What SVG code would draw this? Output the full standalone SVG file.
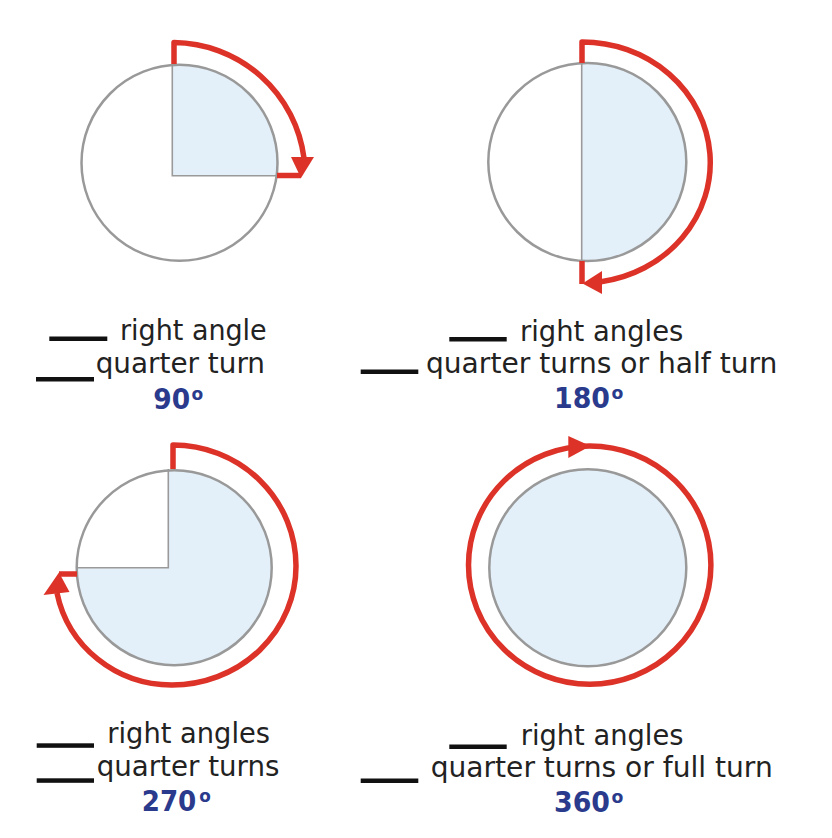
<svg xmlns="http://www.w3.org/2000/svg" width="832" height="838" viewBox="0 0 832 838">
<style>
.bg{fill:#ffffff}
.fill{fill:#e4f0f9}
.ring{fill:none;stroke:#999999;stroke-width:2.5}
.rad{stroke:#9a9a9a;stroke-width:1.6;fill:none}
.arc{fill:none;stroke:#dc3228;stroke-width:5.5;stroke-linejoin:round;stroke-linecap:butt}
.head{fill:#dc3228}
.lbl{font-family:"DejaVu Sans","Verdana",sans-serif;font-size:29px;fill:#222222}
.num{font-family:"DejaVu Sans","Verdana",sans-serif;font-size:28px;font-weight:bold;fill:#2a3a8c}
.sup{font-size:18px}
.blank{fill:#111111}
</style>
<defs>
<clipPath id="c1"><circle cx="179.5" cy="162.8" r="98"/></clipPath>
<clipPath id="c2"><circle cx="587.3" cy="162" r="99"/></clipPath>
<clipPath id="c3"><circle cx="174.2" cy="567.8" r="97.5"/></clipPath>
</defs>
<rect class="bg" x="0" y="0" width="832" height="838"/>

<g id="turn-90">
<circle cx="179.5" cy="162.8" r="98" fill="#ffffff"/>
<rect class="fill" x="172.3" y="40" width="140" height="135.7" clip-path="url(#c1)"/>
<polyline class="rad" points="172.3,64 172.3,175.7 278,175.7"/>
<circle class="ring" cx="179.5" cy="162.8" r="98"/>
<rect class="blank" x="49.3" y="336.5" width="58" height="4.5"/>
<rect class="blank" x="36" y="377" width="58" height="4.5"/>
<text class="lbl" x="120" y="340" textLength="146.7" lengthAdjust="spacingAndGlyphs">right angle</text>
<text class="lbl" x="95.7" y="373.3" textLength="169.3" lengthAdjust="spacingAndGlyphs">quarter turn</text>
<text class="num" x="153.3" y="409" textLength="50" lengthAdjust="spacingAndGlyphs">90<tspan class="sup" dx="1.5" dy="-9">o</tspan></text>
</g>

<g id="turn-180">
<circle cx="587.3" cy="162" r="99" fill="#ffffff"/>
<rect class="fill" x="581.7" y="50" width="120" height="230" clip-path="url(#c2)"/>
<line class="rad" x1="581.7" y1="63" x2="581.7" y2="261"/>
<circle class="ring" cx="587.3" cy="162" r="99"/>
<rect class="blank" x="449.3" y="337" width="57.4" height="4.5"/>
<rect class="blank" x="360.7" y="369.5" width="57.6" height="4.5"/>
<text class="lbl" x="520" y="340.7" textLength="163.3" lengthAdjust="spacingAndGlyphs">right angles</text>
<text class="lbl" x="426" y="373.3" textLength="351.3" lengthAdjust="spacingAndGlyphs">quarter turns or half turn</text>
<text class="num" x="554" y="408.3" textLength="69.3" lengthAdjust="spacingAndGlyphs">180<tspan class="sup" dx="1.5" dy="-9">o</tspan></text>
</g>

<g id="turn-270">
<circle class="fill" cx="174.2" cy="567.8" r="97.5"/>
<rect x="60" y="460" width="108.3" height="107.7" fill="#ffffff" clip-path="url(#c3)"/>
<polyline class="rad" points="168.3,469 168.3,567.7 76,567.7"/>
<circle class="ring" cx="174.2" cy="567.8" r="97.5"/>
<rect class="blank" x="36.7" y="743.3" width="57.3" height="4.5"/>
<rect class="blank" x="36.7" y="778.3" width="57.3" height="4.5"/>
<text class="lbl" x="107.3" y="743.3" textLength="162.7" lengthAdjust="spacingAndGlyphs">right angles</text>
<text class="lbl" x="96.7" y="775.5" textLength="182.7" lengthAdjust="spacingAndGlyphs">quarter turns</text>
<text class="num" x="141.7" y="810.7" textLength="69" lengthAdjust="spacingAndGlyphs">270<tspan class="sup" dx="3" dy="-9">o</tspan></text>
</g>

<g id="turn-360">
<circle class="fill" cx="587.8" cy="567.8" r="98.5"/>
<circle class="ring" cx="587.8" cy="567.8" r="98.5"/>
<rect class="blank" x="449.3" y="744.5" width="57.4" height="4.5"/>
<rect class="blank" x="360.7" y="778.5" width="57.6" height="4.5"/>
<text class="lbl" x="520.7" y="745" textLength="162.7" lengthAdjust="spacingAndGlyphs">right angles</text>
<text class="lbl" x="430.7" y="776.7" textLength="342" lengthAdjust="spacingAndGlyphs">quarter turns or full turn</text>
<text class="num" x="554" y="811.7" textLength="69.3" lengthAdjust="spacingAndGlyphs">360<tspan class="sup" dx="1.5" dy="-9">o</tspan></text>
</g>

<g id="connectors">
<path class="arc" d="M174,64 V42.5 A132.5 132.5 0 0 1 304,158"/>
<line class="arc" x1="277" y1="175.5" x2="301" y2="175.5"/>
<polygon class="head" points="291,157 314,157 301,178"/>

<path class="arc" d="M582,63 V42 A128 120.5 0 0 1 601,281.7"/>
<line class="arc" x1="582" y1="261" x2="582" y2="284"/>
<polygon class="head" points="602,271 602,294 582.5,283.5"/>

<path class="arc" d="M173,469 V445 A123 121 0 0 1 296,566 A124 119 0 0 1 172,685 A117 115 0 0 1 57,593"/>
<line class="arc" x1="59" y1="574" x2="77" y2="574"/>
<polygon class="head" points="43.5,595 69.5,592 59,572.5"/>

<ellipse class="arc" cx="589.7" cy="565.1" rx="121.2" ry="119.1"/>
<polygon class="head" points="568.3,436 568.3,458 590.5,446"/>
</g>
</svg>
